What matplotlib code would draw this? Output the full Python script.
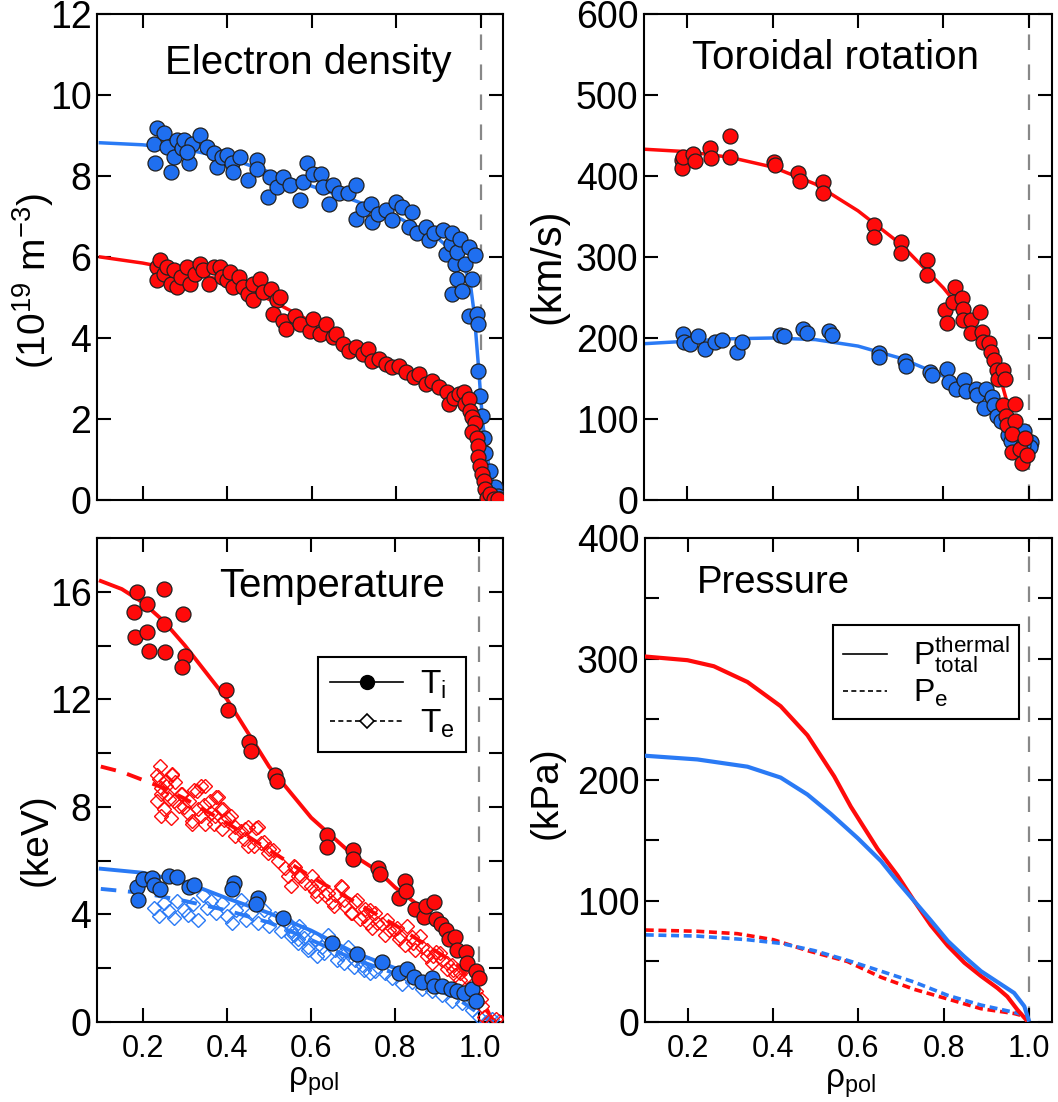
import matplotlib
matplotlib.use("Agg")

import matplotlib.pyplot as plt
from matplotlib.lines import Line2D
from matplotlib.ticker import MultipleLocator

plt.rcParams["font.family"] = ["Liberation Sans", "DejaVu Sans"]
plt.rcParams["mathtext.fontset"] = "custom"
plt.rcParams["mathtext.rm"] = "Liberation Sans"
plt.rcParams["mathtext.it"] = "Liberation Sans:italic"
plt.rcParams["mathtext.bf"] = "Liberation Sans:bold"

RED = "#ff0a0a"
BLUE = "#1f6ff0"
BLUE_LINE = "#2a7af5"

# ---------------- electron density (1e19 m^-3) ----------------
ne_blue_rho = [0.234, 0.227, 0.23, 0.25, 0.258, 0.266, 0.274, 0.282, 0.293, 0.297,
               0.309, 0.317, 0.305, 0.336, 0.352, 0.368, 0.376, 0.387, 0.399, 0.411,
               0.415, 0.43, 0.45, 0.47, 0.47, 0.497, 0.501, 0.517, 0.532, 0.548,
               0.572, 0.58, 0.588, 0.603, 0.623, 0.627, 0.642, 0.65, 0.666, 0.686,
               0.705, 0.705, 0.721, 0.74, 0.744, 0.756, 0.776, 0.799, 0.791, 0.815,
               0.831, 0.838, 0.85, 0.87, 0.878, 0.89, 0.91, 0.917, 0.929, 0.932,
               0.94, 0.944, 0.952, 0.944, 0.932, 0.956, 0.964, 0.972, 0.98, 0.987,
               0.972, 0.991, 0.995, 0.995, 0.999, 1.003, 1.007, 1.011, 1.023, 1.035,
               1.042, 1.046]
ne_blue = [9.18, 8.80, 8.31, 9.05, 8.72, 8.10, 8.47, 8.89, 8.68, 8.89,
           8.31, 8.80, 8.60, 9.01, 8.72, 8.56, 8.23, 8.47, 8.52, 8.31,
           8.10, 8.47, 7.90, 8.39, 8.18, 7.48, 7.98, 7.73, 7.98, 7.77,
           7.40, 7.86, 8.31, 8.06, 8.06, 7.73, 7.32, 7.77, 7.57, 7.57,
           7.77, 6.95, 7.19, 7.32, 6.87, 7.07, 7.15, 7.36, 6.91, 7.24,
           6.74, 7.11, 6.58, 6.74, 6.41, 6.58, 6.66, 6.08, 6.33, 6.58,
           5.83, 6.12, 6.45, 5.46, 5.09, 5.17, 5.83, 6.25, 5.46, 6.04,
           4.55, 4.60, 4.35, 3.19, 2.57, 2.08, 1.54, 1.17, 0.72, 0.31,
           0.10, 0.02]

ne_red_rho = [0.234, 0.234, 0.242, 0.25, 0.258, 0.266, 0.274, 0.282, 0.29, 0.305,
              0.313, 0.325, 0.336, 0.344, 0.356, 0.368, 0.384, 0.387, 0.399, 0.407,
              0.415, 0.427, 0.438, 0.45, 0.462, 0.462, 0.478, 0.486, 0.505, 0.517,
              0.525, 0.509, 0.532, 0.54, 0.56, 0.572, 0.595, 0.603, 0.619, 0.634,
              0.65, 0.658, 0.674, 0.689, 0.705, 0.721, 0.733, 0.744, 0.76, 0.776,
              0.791, 0.807, 0.823, 0.842, 0.854, 0.87, 0.885, 0.901, 0.921, 0.925,
              0.936, 0.948, 0.96, 0.964, 0.972, 0.976, 0.98, 0.987, 0.98, 0.991,
              0.995, 0.995, 0.999, 1.003, 1.007, 1.011, 1.015, 1.023, 1.031, 1.042]
ne_red = [5.75, 5.42, 5.92, 5.59, 5.75, 5.34, 5.67, 5.26, 5.50, 5.75,
          5.34, 5.59, 5.83, 5.67, 5.34, 5.75, 5.75, 5.50, 5.42, 5.63,
          5.26, 5.50, 5.26, 5.09, 5.34, 4.93, 5.46, 5.13, 5.21, 4.93,
          5.01, 4.60, 4.43, 4.22, 4.55, 4.35, 4.18, 4.47, 4.10, 4.35,
          4.02, 4.10, 3.85, 3.69, 3.77, 3.61, 3.73, 3.44, 3.48, 3.36,
          3.28, 3.32, 3.15, 3.03, 3.11, 2.86, 2.95, 2.78, 2.66, 2.37,
          2.53, 2.62, 2.66, 2.37, 2.49, 2.20, 2.04, 1.91, 1.67, 1.54,
          1.34, 1.05, 0.84, 0.64, 0.47, 0.26, 0.06, 0.14, 0.02, 0.02]

ne_blue_fit_rho = [0.10, 0.20, 0.30, 0.40, 0.50, 0.60, 0.70, 0.80, 0.90, 0.95,
                   0.975, 0.985, 0.995, 1.005, 1.02, 1.035, 1.05]
ne_blue_fit = [8.82, 8.77, 8.66, 8.45, 8.10, 7.75, 7.40, 7.00, 6.45, 6.00,
               5.40, 4.60, 3.30, 1.90, 0.80, 0.20, 0.0]
ne_red_fit_rho = [0.10, 0.20, 0.30, 0.40, 0.50, 0.60, 0.70, 0.80, 0.90, 0.95,
                  0.98, 1.00, 1.02, 1.05]
ne_red_fit = [6.00, 5.85, 5.65, 5.40, 4.95, 4.40, 3.80, 3.30, 2.80, 2.50,
              2.00, 0.90, 0.15, 0.0]

# ---------------- toroidal rotation (km/s) ----------------
vt_red_rho = [0.186, 0.186, 0.19, 0.213, 0.217, 0.253, 0.256, 0.3, 0.3, 0.402,
              0.405, 0.46, 0.463, 0.519, 0.519, 0.637, 0.637, 0.702, 0.702, 0.762,
              0.762, 0.805, 0.808, 0.827, 0.823, 0.845, 0.846, 0.846, 0.866, 0.866,
              0.886, 0.89, 0.894, 0.908, 0.913, 0.92, 0.925, 0.929, 0.941, 0.945,
              0.941, 0.947, 0.949, 0.969, 0.969, 0.961, 0.961, 0.98, 0.984, 0.992,
              0.996]
vt_red = [420, 410, 423, 427, 418, 434, 422, 449, 424, 417,
          414, 404, 394, 392, 379, 339, 325, 319, 305, 296,
          278, 235, 219, 263, 244, 249, 236, 222, 222, 206,
          232, 208, 195, 194, 183, 173, 160, 149, 160, 149,
          117, 104, 92, 119, 97, 82, 59, 63, 46, 77,
          55]
vt_blue_rho = [0.19, 0.191, 0.205, 0.225, 0.241, 0.264, 0.28, 0.315, 0.327, 0.417,
               0.427, 0.472, 0.48, 0.531, 0.539, 0.649, 0.65, 0.711, 0.713, 0.77,
               0.774, 0.809, 0.813, 0.829, 0.849, 0.853, 0.876, 0.88, 0.9, 0.896,
               0.915, 0.919, 0.927, 0.935, 0.951, 0.958, 0.99, 1.005, 1.004, 0.986]
vt_blue = [205, 195, 193, 202, 187, 195, 198, 183, 195, 204,
           202, 211, 206, 209, 204, 181, 176, 171, 166, 158,
           154, 162, 146, 137, 148, 135, 137, 129, 137, 113,
           127, 117, 104, 98, 80, 73, 85, 72, 65, 68]

vt_red_fit_rho = [0.10, 0.20, 0.30, 0.40, 0.50, 0.60, 0.70, 0.80, 0.85, 0.90,
                  0.93, 0.95, 0.97, 0.99, 1.00]
vt_red_fit = [433, 430, 423, 411, 390, 357, 316, 262, 230, 190,
              158, 120, 88, 62, 55]
vt_blue_fit_rho = [0.10, 0.20, 0.30, 0.40, 0.50, 0.60, 0.70, 0.80, 0.90, 0.95,
                   1.00, 1.02]
vt_blue_fit = [193, 196, 199, 200, 198, 190, 175, 153, 125, 100, 72, 66]

# ---------------- temperature (keV) ----------------
ti_red_rho = [0.185, 0.178, 0.182, 0.21, 0.21, 0.214, 0.25, 0.25, 0.252, 0.296,
              0.3, 0.294, 0.398, 0.402, 0.453, 0.457, 0.515, 0.519, 0.637, 0.637,
              0.7, 0.7, 0.76, 0.763, 0.808, 0.824, 0.825, 0.848, 0.868, 0.872,
              0.892, 0.896, 0.908, 0.92, 0.928, 0.943, 0.947, 0.967, 0.971, 0.991,
              0.999]
ti_red = [16.0, 15.26, 14.3, 15.56, 14.5, 13.8, 16.1, 14.8, 13.76, 15.17,
          13.6, 13.2, 12.34, 11.6, 10.43, 10.08, 9.18, 8.97, 6.94, 6.50,
          6.41, 6.06, 5.71, 5.51, 4.60, 5.23, 4.88, 4.19, 3.91, 4.33,
          4.47, 3.84, 3.63, 3.43, 3.08, 3.15, 2.66, 2.59, 2.18, 1.90,
          1.62]
ti_blue_rho = [0.186, 0.188, 0.2, 0.222, 0.226, 0.241, 0.262, 0.281, 0.31, 0.322,
               0.417, 0.413, 0.473, 0.469, 0.533, 0.649, 0.708, 0.768, 0.808, 0.828,
               0.844, 0.864, 0.888, 0.892, 0.912, 0.932, 0.947, 0.963, 0.983, 0.991]
ti_blue = [5.02, 4.54, 5.30, 5.37, 5.09, 4.95, 5.44, 5.41, 5.02, 5.09,
           5.16, 4.95, 4.60, 4.40, 3.88, 2.94, 2.52, 2.22, 1.83, 1.97,
           1.69, 1.48, 1.62, 1.35, 1.35, 1.21, 1.14, 1.07, 1.21, 0.79]

te_red_rho = [0.241, 0.234, 0.254, 0.27, 0.242, 0.258, 0.234, 0.25, 0.242, 0.266,
              0.274, 0.29, 0.298, 0.309, 0.317, 0.321, 0.337, 0.345, 0.337, 0.361,
              0.373, 0.37, 0.386, 0.393, 0.409, 0.418, 0.433, 0.441, 0.449, 0.465,
              0.473, 0.489, 0.497, 0.509, 0.521, 0.537, 0.545, 0.561, 0.569, 0.585,
              0.601, 0.609, 0.617, 0.633, 0.649, 0.657, 0.673, 0.68, 0.696, 0.704,
              0.716, 0.728, 0.736, 0.744, 0.752, 0.768, 0.776, 0.784, 0.804, 0.808,
              0.824, 0.84, 0.848, 0.864, 0.876, 0.888, 0.896, 0.912, 0.924, 0.935,
              0.943, 0.955, 0.967, 0.975, 0.991, 1.003, 1.007, 1.011, 1.023, 1.039,
              1.051,
              0.269, 0.238, 0.254, 0.277, 0.242, 0.261, 0.293, 0.285, 0.308, 0.332,
              0.348, 0.328, 0.36, 0.379, 0.316, 0.348, 0.371, 0.391, 0.403, 0.387,
              0.419, 0.442, 0.47, 0.481, 0.45, 0.501,
              0.56, 0.576, 0.552, 0.6, 0.615, 0.639, 0.655, 0.67, 0.678, 0.694,
              0.709, 0.725, 0.741, 0.757, 0.78, 0.796, 0.812, 0.827, 0.843, 0.859,
              0.875, 0.89, 0.906, 0.922, 0.938, 0.953]
te_red = [9.53, 9.18, 8.97, 9.18, 8.70, 8.49, 8.21, 7.93, 7.66, 7.59,
          8.21, 8.49, 8.00, 8.21, 7.38, 8.63, 8.77, 8.07, 7.66, 7.79,
          8.35, 7.38, 7.93, 7.52, 7.66, 7.24, 7.10, 6.82, 7.24, 6.55,
          7.24, 6.68, 6.27, 6.41, 5.99, 5.71, 5.44, 5.78, 5.44, 5.16,
          5.44, 4.88, 5.16, 4.74, 4.47, 4.74, 5.02, 4.33, 4.05, 4.47,
          3.84, 4.19, 3.70, 3.50, 4.05, 3.63, 3.22, 3.43, 3.50, 3.08,
          2.87, 3.15, 2.66, 2.80, 2.45, 2.18, 2.59, 2.32, 1.97, 2.11,
          1.76, 1.55, 1.69, 1.28, 1.14, 0.86, 0.58, 0.17, 0.03, 0.10,
          0.0,
          9.22, 9.03, 8.78, 8.91, 8.47, 8.28, 8.47, 8.03, 7.79, 7.91,
          8.78, 8.59, 8.22, 8.35, 7.47, 7.35, 7.66, 7.91, 7.60, 7.16,
          6.91, 7.16, 7.23, 6.67, 6.54, 6.42,
          5.80, 5.42, 5.05, 5.05, 4.68, 4.80, 4.30, 5.05, 4.55, 4.06,
          4.55, 3.93, 4.18, 3.68, 3.81, 3.43, 3.18, 3.56, 2.94, 3.18,
          2.69, 2.44, 2.56, 2.19, 1.94, 1.82]
te_blue_rho = [0.226, 0.238, 0.25, 0.261, 0.273, 0.281, 0.297, 0.308, 0.32, 0.332,
               0.344, 0.352, 0.363, 0.375, 0.387, 0.399, 0.411, 0.422, 0.434, 0.446,
               0.458, 0.474, 0.489, 0.501, 0.513, 0.529, 0.544, 0.56, 0.572, 0.584,
               0.553, 0.569, 0.581, 0.593, 0.609, 0.625, 0.641, 0.657, 0.673, 0.688,
               0.704, 0.72, 0.736, 0.752, 0.776, 0.792, 0.816, 0.84, 0.864, 0.888,
               0.912, 0.935, 0.959, 0.983, 0.999, 1.015, 1.031, 1.047,
               0.552, 0.568, 0.592, 0.615, 0.631, 0.662, 0.678, 0.702, 0.725, 0.741]
te_blue = [4.24, 3.93, 4.43, 4.12, 3.87, 4.49, 4.18, 3.99, 4.37, 3.81,
           4.74, 4.24, 4.49, 4.06, 4.43, 3.93, 3.68, 4.18, 4.55, 3.81,
           4.06, 3.68, 4.18, 3.56, 3.87, 3.37, 3.68, 3.25, 3.56, 3.12,
           3.43, 3.08, 3.36, 2.80, 3.08, 2.80, 3.22, 2.66, 2.52, 2.80,
           2.32, 2.11, 2.18, 1.90, 1.83, 1.62, 1.41, 1.48, 1.21, 1.14,
           1.00, 0.79, 0.72, 0.44, 0.17, 0.0, 0.10, 0.03,
           3.18, 2.94, 2.69, 2.44, 2.56, 2.31, 2.19, 2.06, 1.94, 1.82]

ti_red_fit_rho = [0.10, 0.15, 0.20, 0.25, 0.30, 0.40, 0.50, 0.60, 0.70, 0.76,
                  0.80, 0.85, 0.90, 0.95, 0.98, 1.00]
ti_red_fit = [16.4, 16.1, 15.6, 14.9, 14.0, 12.0, 9.5, 7.6, 6.2, 5.6,
              5.0, 4.4, 3.8, 2.9, 2.2, 1.7]
te_red_fit_rho = [0.10, 0.15, 0.20, 0.25, 0.30, 0.40, 0.50, 0.60, 0.70, 0.80,
                  0.90, 0.95, 1.00, 1.03, 1.05]
te_red_fit = [9.5, 9.3, 9.0, 8.7, 8.3, 7.4, 6.4, 5.4, 4.5, 3.6,
              2.6, 2.1, 1.0, 0.1, 0.0]
ti_blue_fit_rho = [0.10, 0.20, 0.30, 0.40, 0.50, 0.60, 0.70, 0.80, 0.90, 0.95,
                   1.00]
ti_blue_fit = [5.7, 5.55, 5.2, 4.6, 4.05, 3.4, 2.6, 2.0, 1.45, 1.15, 0.7]
te_blue_fit_rho = [0.10, 0.20, 0.30, 0.40, 0.50, 0.60, 0.70, 0.80, 0.90, 0.95,
                   1.00, 1.03]
te_blue_fit = [4.95, 4.8, 4.5, 4.15, 3.7, 3.05, 2.35, 1.8, 1.2, 0.85, 0.3, 0.0]

# ---------------- pressure (kPa) ----------------
p_red_rho = [0.1, 0.198, 0.26, 0.339, 0.417, 0.48, 0.543, 0.582, 0.645, 0.692,
             0.731, 0.77, 0.81, 0.849, 0.888, 0.927, 0.95, 0.974, 0.994]
p_red = [302, 299, 294, 281, 261, 237, 203, 178, 143, 121,
         100, 80, 63, 49, 38, 28, 21, 10, 2]
p_blue_rho = [0.1, 0.221, 0.339, 0.417, 0.48, 0.535, 0.598, 0.653, 0.692, 0.731,
              0.77, 0.81, 0.849, 0.888, 0.927, 0.966, 0.99, 1.0]
p_blue = [220, 217, 211, 202, 188, 172, 152, 133, 116, 100,
          84, 67, 54, 42, 33, 24, 13, 2]
pe_red_rho = [0.1, 0.22, 0.315, 0.4, 0.48, 0.574, 0.653, 0.731, 0.81, 0.888,
              0.966, 0.998]
pe_red = [76, 75, 73, 68, 59, 50, 37, 27, 19, 11, 7, 4]
pe_blue_rho = [0.1, 0.22, 0.339, 0.417, 0.496, 0.574, 0.653, 0.731, 0.81, 0.888,
               0.966, 0.998]
pe_blue = [72, 71, 68, 65, 59, 51, 42, 33, 22, 14, 8, 5]


def style_axes(ax, xlim, ylim, ymajor, yminor, show_x):
    ax.set_xlim(*xlim)
    ax.set_ylim(*ylim)
    ax.xaxis.set_major_locator(MultipleLocator(0.2))
    ax.yaxis.set_major_locator(MultipleLocator(ymajor))
    if yminor:
        ax.yaxis.set_minor_locator(MultipleLocator(yminor))
    ax.tick_params(which="both", direction="in", top=True, right=True,
                   length=10, width=1.5)
    ax.tick_params(axis="y", labelsize=27, pad=4)
    ax.tick_params(axis="x", labelsize=22, pad=9, labelbottom=show_x)
    for s in ax.spines.values():
        s.set_linewidth(1.5)
    ax.axvline(1.0, color="#888888", lw=1.6, dashes=(7, 6.5), zorder=1)


def ylab(ax, text, x, y, size=28):
    ax.set_ylabel(text, fontsize=size, va="center")
    ax.yaxis.set_label_coords(x, y)


def xlab(ax, x, y):
    ax.set_xlabel("ρ$_{\\mathrm{pol}}$", fontsize=24, va="center")
    ax.xaxis.set_label_coords(x, y)


def circles(ax, x, y, color, z):
    ax.plot(x, y, "o", ls="none", ms=10.8, mfc=color, mec="#202020",
            mew=0.9, zorder=z)


fig = plt.figure(figsize=(10.58, 11.02), dpi=100)

# -------- electron density --------
ax1 = fig.add_axes([0.0917, 0.5463, 0.3837, 0.4410])
ax1.plot(ne_blue_fit_rho, ne_blue_fit, color=BLUE_LINE, lw=2.5, zorder=2)
ax1.plot(ne_red_fit_rho, ne_red_fit, color=RED, lw=2.5, zorder=2)
circles(ax1, ne_blue_rho, ne_blue, BLUE, 4)
circles(ax1, ne_red_rho, ne_red, RED, 5)
style_axes(ax1, (0.092, 1.053), (0, 12), 2, None, False)
ylab(ax1, "(10$^{19}$ m$^{-3}$)", -0.158, 0.45)
ax1.text(0.167, 0.90, "Electron density", transform=ax1.transAxes,
         fontsize=29, ha="left", va="center")

# -------- toroidal rotation --------
ax2 = fig.add_axes([0.6087, 0.5463, 0.3856, 0.4410])
ax2.plot(vt_blue_fit_rho, vt_blue_fit, color=BLUE_LINE, lw=2.5, zorder=2)
ax2.plot(vt_red_fit_rho, vt_red_fit, color=RED, lw=2.5, zorder=2)
circles(ax2, vt_blue_rho, vt_blue, BLUE, 4)
circles(ax2, vt_red_rho, vt_red, RED, 5)
style_axes(ax2, (0.098, 1.055), (0, 600), 100, None, False)
ylab(ax2, "(km/s)", -0.234, 0.48, size=30)
ax2.text(0.118, 0.91, "Toroidal rotation", transform=ax2.transAxes,
         fontsize=29, ha="left", va="center")

# -------- temperature --------
ax3 = fig.add_axes([0.0917, 0.0726, 0.3837, 0.4392])
ax3.plot(te_red_fit_rho, te_red_fit, color=RED, lw=2.8, dashes=(4, 3), zorder=2)
ax3.plot(te_blue_fit_rho, te_blue_fit, color=BLUE_LINE, lw=2.8, dashes=(4, 3), zorder=2)
ax3.plot(ti_red_fit_rho, ti_red_fit, color=RED, lw=2.8, zorder=2)
ax3.plot(ti_blue_fit_rho, ti_blue_fit, color=BLUE_LINE, lw=2.8, zorder=2)
ax3.plot(te_blue_rho, te_blue, "D", ls="none", ms=7.3, mfc="none", mec=BLUE_LINE,
         mew=1.0, zorder=3)
ax3.plot(te_red_rho, te_red, "D", ls="none", ms=7.3, mfc="none", mec=RED,
         mew=1.0, zorder=3)
circles(ax3, ti_blue_rho, ti_blue, BLUE, 4)
circles(ax3, ti_red_rho, ti_red, RED, 5)
style_axes(ax3, (0.091, 1.056), (0, 18), 4, 2, True)
ylab(ax3, "(keV)", -0.148, 0.376)
xlab(ax3, 0.533, -0.124)
ax3.text(0.30, 0.90, "Temperature", transform=ax3.transAxes,
         fontsize=29, ha="left", va="center")
t_handles = [
    Line2D([], [], color="k", lw=1.2, marker="o", ms=10, mfc="k", mec="k"),
    Line2D([], [], color="k", lw=1.2, dashes=(3, 2), marker="D", ms=7,
           mfc="white", mec="k", mew=1.2),
]
leg = ax3.legend(t_handles, ["T$_{\\mathrm{i}}$", "T$_{\\mathrm{e}}$"],
                 loc="upper left", bbox_to_anchor=(0.545, 0.754),
                 fancybox=False, edgecolor="k", framealpha=1, fontsize=24,
                 handlelength=2.2, borderpad=0.35, labelspacing=0.2,
                 handletextpad=0.5, borderaxespad=0)
leg.get_frame().set_linewidth(1.5)

# -------- pressure --------
ax4 = fig.add_axes([0.6096, 0.0726, 0.3847, 0.4392])
ax4.plot(pe_red_rho, pe_red, color=RED, lw=2.6, dashes=(2.2, 1.3), zorder=2)
ax4.plot(pe_blue_rho, pe_blue, color=BLUE_LINE, lw=2.6, dashes=(2.2, 1.3), zorder=2)
ax4.plot(p_red_rho, p_red, color=RED, lw=3, zorder=3)
ax4.plot(p_blue_rho, p_blue, color=BLUE_LINE, lw=3, zorder=3)
style_axes(ax4, (0.098, 1.055), (0, 400), 100, 50, True)
ylab(ax4, "(kPa)", -0.241, 0.474)
xlab(ax4, 0.504, -0.128)
ax4.text(0.128, 0.907, "Pressure", transform=ax4.transAxes,
         fontsize=27.5, ha="left", va="center")
p_handles = [
    Line2D([], [], color="k", lw=1.2),
    Line2D([], [], color="k", lw=1.2, dashes=(3, 2)),
]
leg2 = ax4.legend(p_handles, ["P$^{\\mathrm{thermal}}_{\\mathrm{total}}$",
                              "P$_{\\mathrm{e}}$"],
                  loc="upper left", bbox_to_anchor=(0.462, 0.82),
                  fancybox=False, edgecolor="k", framealpha=1, fontsize=23,
                  handlelength=1.4, borderpad=0.3, labelspacing=0.1,
                  handletextpad=0.8, borderaxespad=0)
leg2.get_frame().set_linewidth(1.5)

fig.savefig("out.png", dpi=100)
plt.close(fig)
